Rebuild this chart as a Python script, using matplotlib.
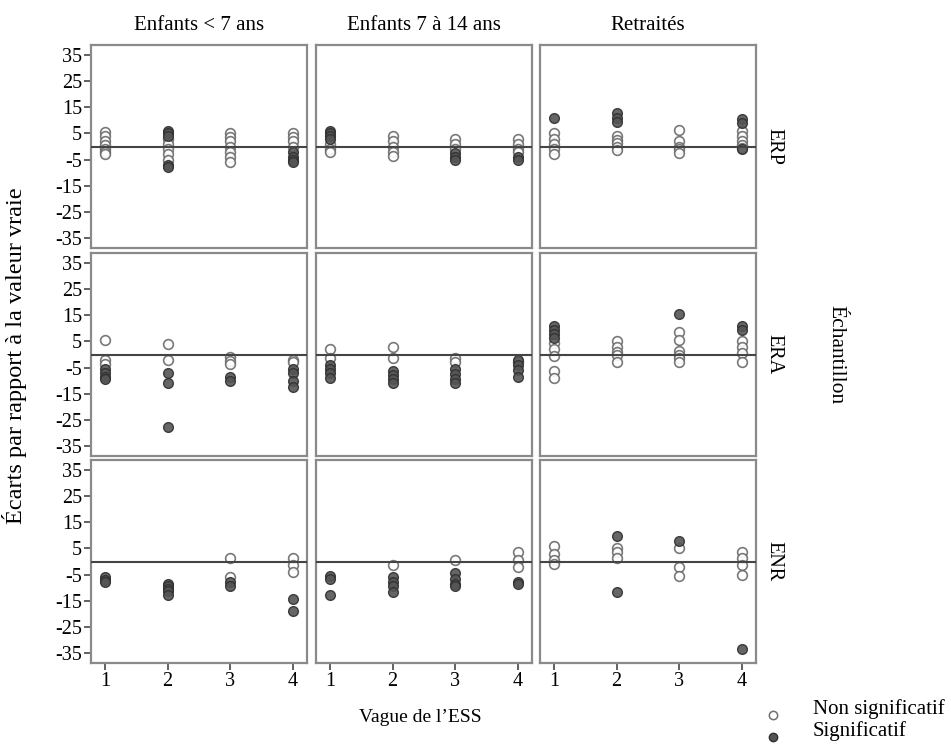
import matplotlib
matplotlib.use("Agg")
import matplotlib.pyplot as plt

plt.rcParams['font.family'] = ['Liberation Serif', 'DejaVu Serif']
plt.rcParams['axes.unicode_minus'] = False

columns = ["Enfants < 7 ans", "Enfants 7 à 14 ans", "Retraités"]
rows = ["ERP", "ERA", "ENR"]
waves = [1, 2, 3, 4]
yticks = [35, 25, 15, 5, -5, -15, -25, -35]

# Non significatif / Significatif values, one list per wave (1..4)
ERP_ENF7_NS = [[5.5, 4, 2, 0.5, -1, -2, -3], [3, 1, -1, -3, -5], [5, 3.5, 2, 0, -2, -4, -6], [5, 3.5, 2, 0]]
ERP_ENF7_S = [[], [6, 5, 4, -7, -8], [], [-2, -4, -5, -6]]
ERP_ENF14_NS = [[1, -1, -2], [4, 2, 0, -2, -3.5], [3, 1, -1], [3, 1, -1, -2]]
ERP_ENF14_S = [[6, 5, 4, 3], [], [-2.5, -4, -5], [-4, -5]]
ERP_RET_NS = [[5, 3, 1, -1, -3], [4, 2.5, 1.5, 0, -1.5], [6.5, 2, 0, -1, -2.5], [6, 4, 2, 0.5, -0.5]]
ERP_RET_S = [[11], [13, 11, 9.5], [], [10.5, 9, -1]]

ERA_ENF7_NS = [[5.5, -2, -3.5], [4.2, -2.3], [-1, -2.5, -3.5], [-2.3, -3]]
ERA_ENF7_S = [[-5.5, -7, -8.5, -9.5], [-7, -11, -28], [-8.5, -10], [-5.5, -7, -10, -12.5]]
ERA_ENF14_NS = [[2.3, -1.5], [2.7, -1.5], [-1.2, -3], [-3]]
ERA_ENF14_S = [[-4, -5.5, -7, -9], [-6.5, -8, -9.5, -11], [-5.5, -7.5, -9.5, -11], [-2, -4, -6, -8.5]]
ERA_RET_NS = [[4.5, 2, -0.5, -6.5, -9], [5, 2.7, 1, 0, -2.7], [8.5, 5.5, 1.5, 0, -1.5, -3], [5, 2.7, 0.7, -3]]
ERA_RET_S = [[11, 9.5, 8, 6.5], [], [15.5], [11, 9.5]]

ENR_ENF7_NS = [[], [], [1.5, -5.8], [1.2, -1.5, -4]]
ENR_ENF7_S = [[-6, -7, -8], [-8.5, -9.5, -10.5, -11.5, -13], [-7.7, -9.6], [-14.3, -18.9]]
ENR_ENF14_NS = [[], [-1.5], [0.4], [3.5, 0.4, -2]]
ENR_ENF14_S = [[-5.4, -6.6, -13], [-5.8, -7.7, -9.6, -11.6], [-4.6, -6.6, -8.5, -9.6], [-7.7, -8.5]]
ENR_RET_NS = [[5.8, 3, 0.4, -0.8], [5, 3.8, 1.2], [5, -2, -5.4], [3.8, 1.2, -1.5, -5]]
ENR_RET_S = [[], [9.7, -11.6], [8], [-33.5]]

panels = [
    [(ERP_ENF7_NS, ERP_ENF7_S), (ERP_ENF14_NS, ERP_ENF14_S), (ERP_RET_NS, ERP_RET_S)],
    [(ERA_ENF7_NS, ERA_ENF7_S), (ERA_ENF14_NS, ERA_ENF14_S), (ERA_RET_NS, ERA_RET_S)],
    [(ENR_ENF7_NS, ENR_ENF7_S), (ENR_ENF14_NS, ENR_ENF14_S), (ENR_RET_NS, ENR_RET_S)],
]

W, H = 951, 747
fig = plt.figure(figsize=(W / 100, H / 100), dpi=100)

col_left = [91, 316, 540]
col_w = 216
row_top = [45, 253, 460]
row_h = 203

open_kw = dict(marker='o', linestyle='none', markersize=7, markerfacecolor='white',
               markeredgecolor='#6a6a6a', markeredgewidth=1.2, alpha=0.9)
fill_kw = dict(marker='o', linestyle='none', markersize=7, markerfacecolor='#555555',
               markeredgecolor='#303030', markeredgewidth=1.0, alpha=0.9)

for r in range(3):
    for c in range(3):
        ax = fig.add_axes([col_left[c] / W, 1 - (row_top[r] + row_h) / H, col_w / W, row_h / H])
        ns, s = panels[r][c]
        for wi, wv in enumerate(waves):
            if ns[wi]:
                ax.plot([wv] * len(ns[wi]), ns[wi], **open_kw)
            if s[wi]:
                ax.plot([wv] * len(s[wi]), s[wi], **fill_kw)
        ax.axhline(0, color='#444444', linewidth=1.5, zorder=3)
        ax.set_xlim(0.78, 4.22)
        ax.set_ylim(-39, 39)
        for sp in ax.spines.values():
            sp.set_color('#8a8a8a')
            sp.set_linewidth(1.6)
        ax.set_xticks(waves)
        ax.set_yticks(yticks)
        ax.tick_params(direction='out', length=5, width=1.3, color='#555555',
                       labelsize=14.5, pad=1.5)
        if c != 0:
            ax.tick_params(axis='y', left=False, labelleft=False)
        if r != 2:
            ax.tick_params(axis='x', bottom=False, labelbottom=False)
        if r == 0:
            ax.set_title(columns[c], fontsize=15, pad=11)
        if c == 2:
            ax.text(1.04, 0.5, rows[r], transform=ax.transAxes, rotation=270,
                    va='center', ha='left', fontsize=14.5)

fig.text(15 / W, 1 - 356 / H, "Écarts par rapport à la valeur vraie", rotation=90,
         va='center', ha='center', fontsize=17.5)
fig.text(420 / W, 1 - 718 / H, "Vague de l’ESS", va='center', ha='center', fontsize=14)
fig.text(836 / W, 1 - 355 / H, "Échantillon", rotation=270, va='center', ha='center', fontsize=15.5)

# legend
fig.lines.append(plt.Line2D([773 / W], [1 - 715 / H], transform=fig.transFigure,
                            marker='o', markersize=6, markerfacecolor='white',
                            markeredgecolor='#707070', markeredgewidth=1.1, linestyle='none'))
fig.lines.append(plt.Line2D([773 / W], [1 - 737 / H], transform=fig.transFigure,
                            marker='o', markersize=6, markerfacecolor='#555555',
                            markeredgecolor='#303030', markeredgewidth=1.0, linestyle='none'))
fig.text(813 / W, 1 - 709 / H, "Non significatif", va='center', ha='left', fontsize=15)
fig.text(813 / W, 1 - 731 / H, "Significatif", va='center', ha='left', fontsize=15)

fig.savefig("out.png", dpi=100)
